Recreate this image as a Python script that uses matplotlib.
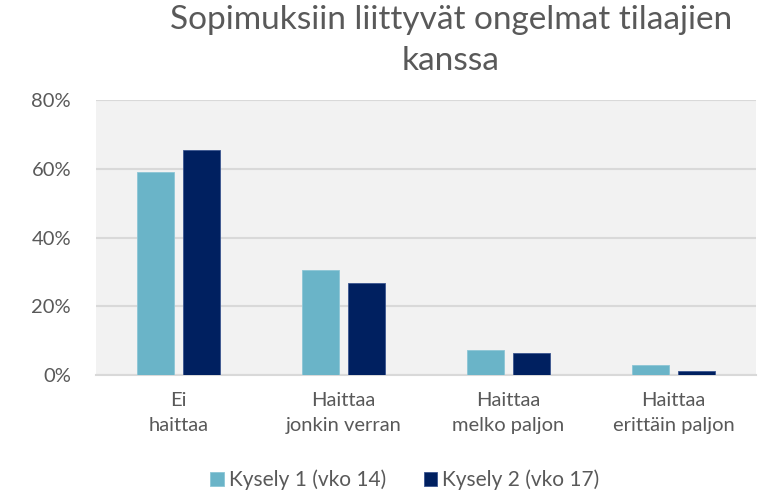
import matplotlib.pyplot as plt
import numpy as np

categories = ["Ei\nhaittaa", "Haittaa\njonkin verran", "Haittaa\nmelko paljon", "Haittaa\nerittäin paljon"]
kysely1 = [59.0, 30.6, 7.2, 3.1]
kysely2 = [65.4, 26.7, 6.5, 1.3]
series_names = ["Kysely 1 (vko 14)", "Kysely 2 (vko 17)"]

plt.rcParams['font.family'] = ['Lato', 'DejaVu Sans']
txt = '#595959'

fig = plt.figure(figsize=(7.64, 5.03), dpi=100)
ax = fig.add_axes([0.1257, 0.254, 0.8638, 0.547])
ax.set_facecolor('#F2F2F2')

x = np.arange(len(categories))
ax.bar(x - 0.142, kysely1, 0.224, color='#6AB4C8', edgecolor='#8CC6D6', linewidth=0.6,
       label=series_names[0], zorder=3)
ax.bar(x + 0.142, kysely2, 0.224, color='#002060', edgecolor='#3A5590', linewidth=0.6,
       label=series_names[1], zorder=3)

ax.set_xlim(-0.5, 3.5)
ax.set_ylim(0, 80)
ax.set_yticks([0, 20, 40, 60, 80])
ax.set_yticklabels([f"{v}%" for v in [0, 20, 40, 60, 80]])
ax.yaxis.grid(True, color='#D9D9D9', linewidth=1.5, zorder=0)
ax.set_xticks(x)
ax.set_xticklabels(categories, linespacing=1.55)
ax.tick_params(axis='both', length=0, colors=txt, labelsize=14.5)
ax.tick_params(axis='y', pad=18)
ax.tick_params(axis='x', pad=12)
for s in ['top', 'right', 'left']:
    ax.spines[s].set_visible(False)
ax.spines['bottom'].set_color('#D9D9D9')
ax.spines['bottom'].set_linewidth(1.5)

fig.text(0.59, 0.99, "Sopimuksiin liittyvät ongelmat tilaajien\nkanssa", ha='center', va='top',
         fontsize=24, color=txt, linespacing=1.45)

leg = fig.legend(loc='lower center', bbox_to_anchor=(0.53, -0.012), ncol=2, frameon=False,
                 fontsize=15, handlelength=0.65, handleheight=0.65, handletextpad=0.25,
                 columnspacing=1.8)
for t in leg.get_texts():
    t.set_color(txt)

fig.savefig("out.png", dpi=100)
